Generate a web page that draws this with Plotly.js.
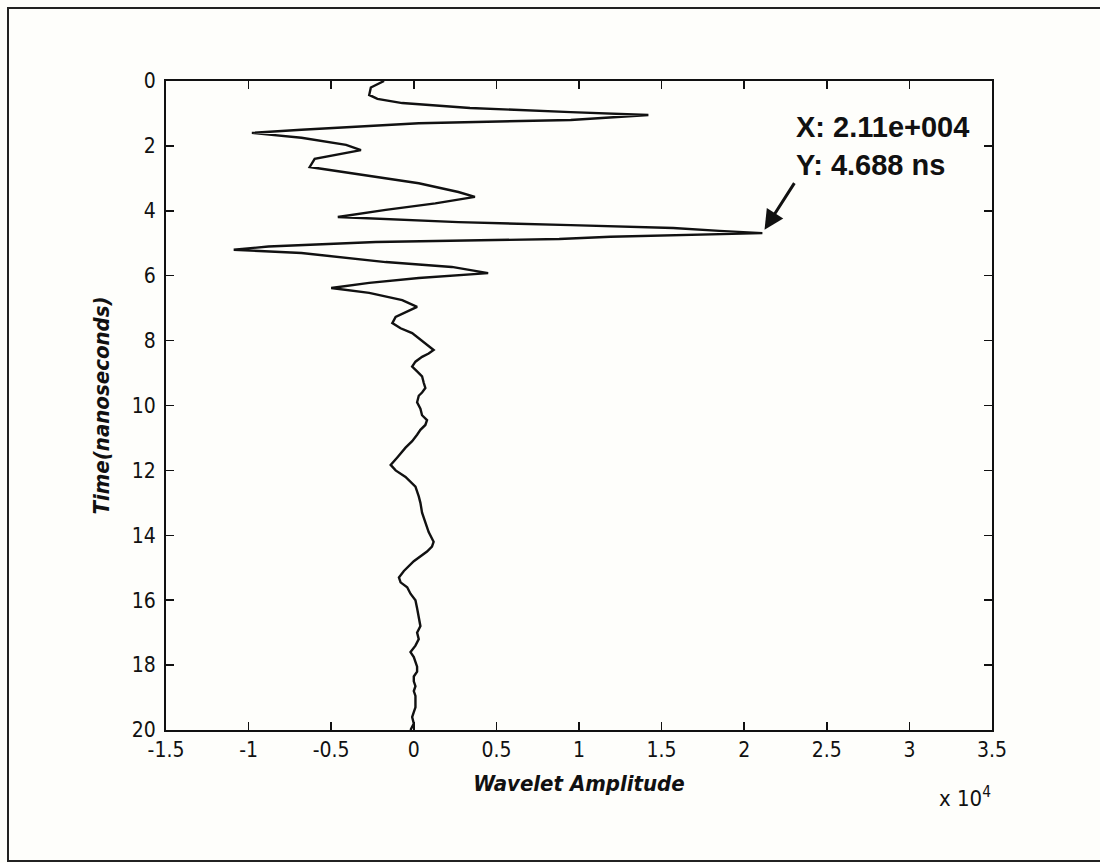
<!DOCTYPE html>
<html>
<head>
<meta charset="utf-8">
<script src="https://cdn.plot.ly/plotly-3.0.1.min.js"></script>
<style>
  html, body { margin: 0; padding: 0; background: #fefefb; }
  #chart { width: 1100px; height: 863px; }
</style>
</head>
<body>
<div id="chart"></div>
<script>
// Two-way travel time (ns) of the recorded trace
const timeNs = [
  0.00, 0.20, 0.43, 0.55, 0.68, 0.83, 0.96, 1.05, 1.20, 1.30,
  1.50, 1.60, 1.75, 1.97, 2.13, 2.40, 2.65, 2.84, 3.15, 3.42,
  3.57, 3.77, 3.97, 4.19, 4.35, 4.44, 4.53, 4.62, 4.688, 4.80,
  4.87, 4.96, 5.10, 5.20, 5.30, 5.58, 5.73, 5.92, 6.07, 6.22,
  6.38, 6.53, 6.75, 6.96, 7.12, 7.27, 7.46, 7.62, 7.77, 8.00,
  8.15, 8.29, 8.40, 8.50, 8.65, 8.80, 8.95, 9.10, 9.30, 9.46,
  9.60, 9.70, 9.90, 10.10, 10.30, 10.45, 10.60, 10.75, 10.90, 11.10,
  11.30, 11.50, 11.60, 11.83, 12.00, 12.20, 12.50, 12.80, 13.00, 13.30,
  13.60, 13.90, 14.20, 14.35, 14.50, 14.80, 15.10, 15.30, 15.45, 15.60,
  15.80, 16.00, 16.25, 16.50, 16.80, 17.00, 17.20, 17.40, 17.60, 17.75,
  17.90, 18.05, 18.20, 18.35, 18.50, 18.65, 18.80, 18.95, 19.10, 19.30,
  19.45, 19.60, 19.80, 20.00
];

// Wavelet amplitude at each time sample
const amplitude = [
  -1800, -2600, -2700, -2200, -700, 3400, 9500, 14200, 9500, 300,
  -6800, -9800, -6800, -4100, -3200, -6000, -6300, -3800, 300, 2700,
  3700, 1300, -1700, -4600, 2700, 9500, 15700, 18500, 21100, 11900,
  8800, -2300, -8800, -10900, -6800, -1700, 2300, 4500, 300, -2700,
  -5000, -2700, -700, 200, -500, -1100, -1300, -800, -100, 500,
  900, 1200, 900, 500, 100, -100, 200, 500, 600, 700,
  500, 300, 200, 400, 500, 800, 700, 400, 200, -100,
  -500, -800, -1000, -1400, -1100, -500, 100, 300, 400, 500,
  700, 900, 1200, 1100, 800, 0, -600, -900, -800, -400,
  -200, 100, 200, 300, 400, 200, 300, 100, -200, 0,
  100, 200, 200, 0, 0, 100, 0, 100, 100, 100,
  0, -100, 0, -200
];

// Axis ticks (amplitude shown in units of 10^4)
const xTickVals = [-15000, -10000, -5000, 0, 5000, 10000, 15000, 20000, 25000, 30000, 35000];
const xTickText = ['-1.5', '-1', '-0.5', '0', '0.5', '1', '1.5', '2', '2.5', '3', '3.5'];
const yTickVals = [0, 2, 4, 6, 8, 10, 12, 14, 16, 18, 20];

// Picked point shown in the data tip
const tipX = 21100;
const tipY = 4.688;

const narrow = '"DejaVu Sans Condensed", "Liberation Sans Narrow", "Arial Narrow", "Liberation Sans", Arial, sans-serif';
const sans = '"Liberation Sans", Arial, sans-serif';

const trace = {
  x: amplitude,
  y: timeNs,
  type: 'scatter',
  mode: 'lines',
  line: { color: '#111', width: 2.4, shape: 'linear' },
  hoverinfo: 'x+y'
};

const layout = {
  width: 1100,
  height: 863,
  margin: { l: 166, r: 108, t: 81, b: 133 },
  paper_bgcolor: '#fefefb',
  plot_bgcolor: '#fefefb',
  showlegend: false,
  xaxis: {
    range: [-15000, 35000],
    tickvals: xTickVals,
    ticktext: xTickText,
    ticks: 'inside',
    ticklen: 8,
    tickwidth: 1.5,
    tickcolor: '#111',
    showline: true,
    linecolor: '#111',
    linewidth: 2,
    mirror: 'ticks',
    showgrid: false,
    zeroline: false,
    tickfont: { family: narrow, size: 21, color: '#111' },
    title: {
      text: 'Wavelet Amplitude',
      standoff: 14,
      font: { family: narrow, size: 22, color: '#111', weight: 'bold', style: 'italic' }
    }
  },
  yaxis: {
    range: [20, 0],
    tickvals: yTickVals,
    ticks: 'inside',
    ticklen: 8,
    tickwidth: 1.5,
    tickcolor: '#111',
    showline: true,
    linecolor: '#111',
    linewidth: 2,
    mirror: 'ticks',
    showgrid: false,
    zeroline: false,
    ticklabelstandoff: 4,
    tickfont: { family: narrow, size: 21, color: '#111' },
    title: {
      text: 'Time(nanoseconds)',
      standoff: 16,
      font: { family: narrow, size: 22, color: '#111', weight: 'bold', style: 'italic' }
    }
  },
  annotations: [
    {
      // data tip: text box with its lower-left corner at the pointer tail
      x: tipX, y: tipY,
      xref: 'x', yref: 'y',
      ax: 32, ay: -50,
      xanchor: 'left', yanchor: 'bottom',
      align: 'left',
      text: 'X: 2.11e+004<br>Y: 4.688 ns',
      font: { family: sans, size: 29, color: '#111', weight: 'bold' },
      showarrow: true,
      arrowhead: 2,
      arrowsize: 1.3,
      arrowwidth: 3,
      arrowcolor: '#111',
      standoff: 4
    },
    {
      // exponent for the amplitude axis
      xref: 'paper', yref: 'paper',
      x: (965 - 166) / 826, y: (730 - 797) / 649,
      xanchor: 'center', yanchor: 'middle',
      showarrow: false,
      text: 'x 10<sup>4</sup>',
      font: { family: narrow, size: 22, color: '#111' }
    }
  ],
  shapes: [
    // page frame (left, top, bottom edges)
    {
      type: 'path', xref: 'paper', yref: 'paper',
      path: 'M 1.2,' + ((730 - 8) / 649) + ' L ' + ((8 - 166) / 826) + ',' + ((730 - 8) / 649) +
            ' L ' + ((8 - 166) / 826) + ',' + ((730 - 861) / 649) + ' L 1.2,' + ((730 - 861) / 649),
      line: { color: '#222', width: 2 }
    }
  ]
};

Plotly.newPlot('chart', [trace], layout, { displayModeBar: false, staticPlot: true });
</script>
</body>
</html>
